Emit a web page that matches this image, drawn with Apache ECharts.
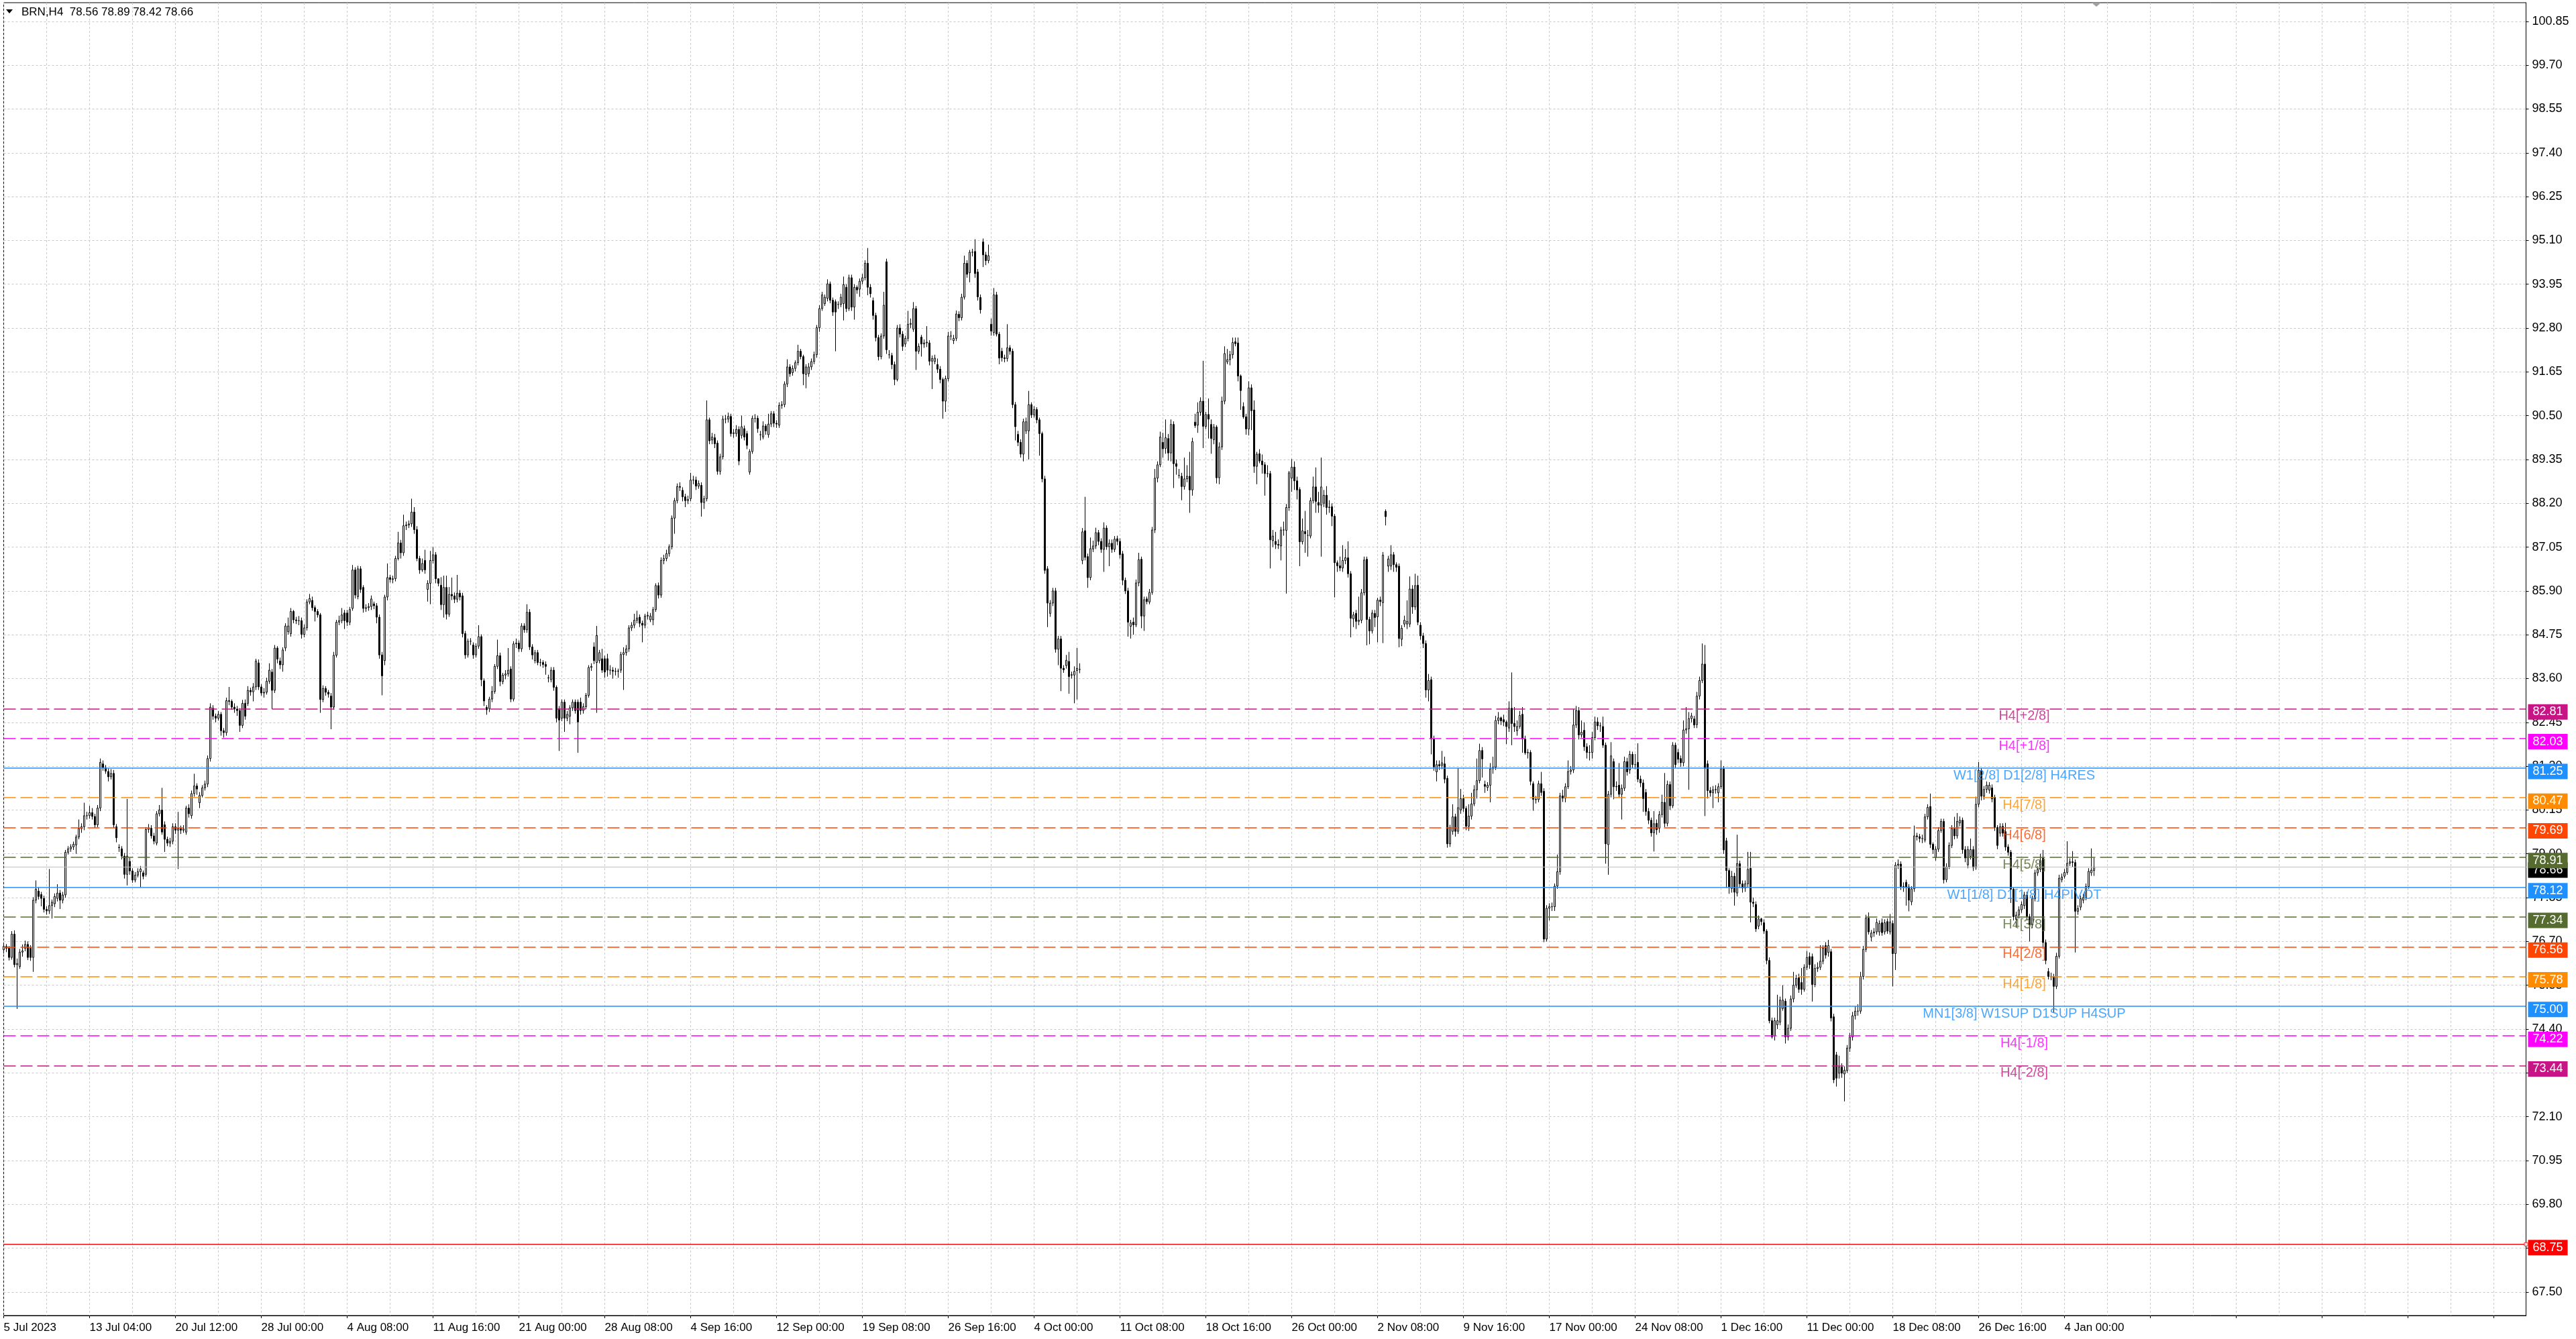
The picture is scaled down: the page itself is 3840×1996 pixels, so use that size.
<!DOCTYPE html>
<html>
<head>
<meta charset="utf-8">
<style>html,body{margin:0;padding:0;background:#fff;}#c{width:3840px;height:1996px;}</style>
<script src="https://cdn.jsdelivr.net/npm/echarts@6/dist/echarts.min.js"></script>
</head>
<body>
<div id="c"></div>
<script>
// ---- data (BRN, H4) : [open, close, low, high] ----
const ohlc = [
[76.48,76.57,76.38,76.66],[76.57,76.52,76.42,76.63],[76.52,76.28,76.20,76.58],[76.28,76.89,76.22,76.97],[76.89,76.09,76.02,76.99],[76.09,76.12,74.93,76.25],[76.04,76.42,75.98,76.50],[76.42,76.45,76.30,76.62],[76.52,76.62,76.44,76.72],[76.62,76.28,76.21,76.70],
[76.52,76.28,76.19,76.60],[76.28,77.78,75.90,77.86],[77.78,78.07,77.70,78.30],[78.02,77.88,77.80,78.12],[77.93,77.83,77.62,78.00],[77.83,77.54,77.46,77.90],[77.54,77.50,77.40,77.62],[77.50,77.64,77.42,78.60],[77.64,77.73,77.30,77.80],[77.69,77.88,77.60,77.96],
[77.83,77.97,77.75,78.20],[77.97,77.78,77.55,78.05],[77.78,77.92,77.70,78.00],[77.92,79.04,77.85,79.10],[79.04,79.13,78.98,79.20],[79.13,79.18,79.05,79.25],[79.18,79.25,79.10,79.32],[79.23,79.44,79.00,79.50],[79.44,79.66,79.38,79.90],[79.66,79.71,79.55,79.80],
[79.71,80.00,79.62,80.34],[80.00,80.00,79.90,80.10],[80.00,80.08,79.92,80.26],[80.08,79.98,79.90,80.20],[79.98,79.76,79.68,80.05],[79.76,80.20,79.70,80.28],[80.20,81.40,80.12,81.50],[81.36,81.26,81.18,81.45],[81.26,81.17,81.10,81.33],[81.16,81.02,80.90,81.24],
[81.02,81.11,80.95,81.22],[81.11,79.76,79.68,81.20],[79.71,79.42,79.30,79.78],[79.17,79.16,79.05,79.25],[79.13,78.94,78.85,79.20],[78.94,78.46,78.35,79.02],[78.46,78.94,78.17,80.44],[78.80,78.55,78.45,78.90],[78.55,78.31,78.24,78.62],[78.31,78.44,78.25,78.52],
[78.44,78.53,78.38,78.62],[78.53,78.60,78.12,78.68],[78.50,78.41,78.33,78.56],[78.46,79.64,78.40,79.70],[79.64,79.67,79.55,79.78],[79.67,79.47,79.40,79.75],[79.47,79.33,79.25,79.55],[79.28,80.05,79.22,80.12],[80.05,80.15,79.98,80.28],[80.15,79.57,79.50,80.73],
[79.76,79.38,79.05,79.85],[79.38,79.28,79.20,79.45],[79.28,79.33,79.18,79.42],[79.33,79.71,79.25,79.80],[79.71,79.62,79.52,79.80],[79.62,79.66,78.60,80.10],[79.66,79.62,79.52,79.74],[79.62,79.65,79.55,79.75],[79.57,80.20,79.50,80.26],[80.20,80.05,79.95,80.30],
[80.00,80.58,79.92,80.66],[80.58,80.78,80.50,81.10],[80.78,80.70,80.55,80.85],[80.34,80.53,80.20,80.62],[80.53,80.73,80.48,80.80],[80.73,80.83,80.66,80.92],[80.83,81.50,80.75,81.58],[81.50,82.85,81.42,82.95],[82.82,82.61,82.52,82.90],[82.61,82.56,82.45,82.68],
[82.56,82.66,82.50,82.75],[82.66,82.23,82.10,82.72],[82.23,82.18,82.05,82.30],[82.18,83.02,82.10,83.10],[83.02,83.00,82.90,83.38],[83.00,82.85,82.78,83.05],[82.85,82.80,82.70,82.95],[82.80,82.76,82.62,82.88],[82.76,82.37,82.20,82.82],[82.37,82.95,82.30,83.04],
[82.95,82.61,82.52,83.05],[82.95,83.29,82.88,83.40],[83.29,83.25,83.15,83.36],[83.25,83.38,83.00,83.48],[83.38,84.06,83.30,84.12],[84.01,83.38,83.30,84.10],[83.38,83.22,83.15,83.45],[83.22,83.24,83.10,83.35],[83.24,83.53,83.18,83.62],[83.53,83.82,83.46,84.00],
[83.77,83.29,82.80,83.85],[83.29,84.40,83.22,84.48],[84.40,84.11,84.00,84.45],[84.06,83.96,83.85,84.15],[83.96,84.35,83.78,84.42],[84.40,84.98,84.32,85.05],[84.83,84.98,84.75,85.20],[84.78,85.36,84.70,85.45],[85.36,85.14,85.05,85.40],[85.14,85.12,85.03,85.22],
[85.12,85.12,85.00,85.24],[85.12,84.76,84.65,85.20],[84.76,84.93,84.68,85.02],[84.93,85.61,84.86,85.68],[85.61,85.70,85.55,85.82],[85.65,85.46,85.38,85.75],[85.46,85.36,85.10,85.52],[85.36,85.27,85.20,85.42],[85.27,83.05,82.70,85.32],[83.05,83.34,82.98,83.42],
[83.34,83.24,83.15,83.40],[83.24,83.19,83.10,83.30],[83.14,82.85,82.27,83.22],[82.85,84.21,82.78,84.30],[84.21,85.08,84.15,85.14],[85.08,85.12,85.00,85.25],[85.12,85.27,85.05,85.45],[85.32,85.12,84.90,85.40],[85.32,85.08,84.98,85.40],[85.08,85.41,85.00,85.48],
[85.44,86.45,85.38,86.58],[86.45,85.79,85.70,86.52],[85.75,86.48,85.68,86.56],[86.48,85.94,85.85,86.55],[85.99,85.44,85.33,86.05],[85.44,85.46,85.35,85.55],[85.46,85.49,85.38,85.58],[85.49,85.69,85.40,85.78],[85.56,85.51,85.42,85.62],[85.51,85.21,85.05,85.58],
[85.21,84.22,84.12,85.28],[84.22,83.67,83.16,84.30],[84.07,85.74,83.95,85.80],[85.74,86.25,85.65,86.62],[86.25,86.20,86.12,86.32],[86.20,86.22,86.10,86.30],[86.22,86.75,86.15,86.82],[86.75,87.16,86.70,87.45],[87.16,86.90,86.75,87.24],[86.90,87.61,86.82,87.90],
[87.61,87.63,87.50,87.72],[87.63,87.66,87.55,87.75],[87.66,87.97,87.58,88.32],[87.97,87.51,87.40,88.10],[87.51,86.75,86.68,87.60],[86.75,86.45,86.35,86.82],[86.45,86.62,86.40,86.75],[86.70,86.45,86.35,86.98],[85.94,86.10,85.62,86.18],[86.10,86.70,85.55,86.95],
[86.70,86.85,86.62,87.05],[86.85,86.22,86.10,86.92],[86.22,86.10,86.02,86.20],[86.05,85.54,85.40,86.26],[85.54,85.99,85.20,86.30],[85.99,85.29,85.15,86.30],[85.29,85.81,85.22,86.00],[85.81,85.77,85.66,86.25],[85.77,85.68,85.58,85.86],[85.68,85.84,85.60,86.32],
[85.84,85.74,85.65,85.92],[85.77,84.78,84.68,85.85],[84.78,84.22,84.12,84.85],[84.22,84.58,84.15,84.65],[84.58,84.58,84.48,84.66],[84.48,84.22,84.12,84.55],[84.22,84.45,84.15,84.52],[84.45,84.70,84.38,85.00],[84.70,83.57,83.40,84.76],[83.54,83.01,82.88,83.60],
[82.84,82.78,82.65,82.90],[82.81,83.06,82.72,83.12],[83.06,83.26,82.98,83.40],[83.26,83.92,83.20,83.98],[83.92,84.20,83.85,84.62],[84.20,83.52,83.40,84.28],[83.52,83.69,83.45,83.75],[83.69,83.72,83.58,83.82],[83.72,83.82,83.65,84.40],[83.85,83.06,82.98,83.92],
[83.06,84.51,83.00,84.58],[84.51,84.53,84.40,84.65],[84.53,84.38,84.30,84.60],[84.38,84.98,84.30,85.05],[84.98,84.88,84.80,85.05],[84.88,85.34,84.80,85.55],[85.34,84.43,84.35,85.42],[84.43,84.22,84.10,84.50],[84.07,84.28,84.00,84.35],[84.28,84.02,83.95,84.35],
[84.02,84.02,83.92,84.12],[84.02,83.97,83.88,84.08],[83.97,83.92,83.70,84.05],[83.62,83.62,83.50,83.70],[83.57,83.82,83.50,83.90],[83.82,83.37,83.28,83.90],[83.37,82.56,82.45,83.42],[82.81,82.51,81.70,82.88],[82.56,82.98,82.48,83.05],[82.98,82.56,82.20,83.05],
[82.56,82.66,82.48,82.75],[82.61,82.83,82.40,82.90],[82.83,82.98,82.75,83.05],[82.98,82.76,82.68,83.05],[82.98,82.46,81.65,83.05],[82.98,82.76,82.65,83.10],[82.76,82.86,82.68,82.95],[82.86,83.16,82.80,83.22],[83.16,83.89,83.10,83.95],[83.89,83.92,83.80,84.00],
[84.43,84.07,83.98,84.55],[84.02,84.73,82.70,84.98],[84.07,84.28,84.00,84.35],[84.12,83.82,83.75,84.38],[84.12,83.77,83.62,84.20],[84.12,83.82,83.65,84.25],[83.82,83.82,83.70,83.95],[83.82,83.79,83.60,83.90],[83.79,83.79,83.68,83.88],[83.79,83.80,83.62,83.86],
[83.82,84.23,83.75,84.30],[84.23,84.28,83.30,84.42],[84.28,84.38,84.20,84.48],[84.38,84.93,84.30,85.00],[84.93,85.00,84.85,85.08],[85.00,85.13,84.92,85.30],[85.13,85.19,85.05,85.38],[85.21,85.05,84.95,85.28],[85.05,85.00,84.55,85.12],[85.00,85.24,84.92,85.30],
[85.24,85.26,85.15,85.35],[85.14,85.24,85.08,85.32],[85.14,85.41,85.00,85.48],[85.41,86.04,85.35,86.10],[86.04,85.79,85.70,86.12],[85.79,86.70,85.72,86.78],[86.70,86.75,86.60,86.85],[86.75,86.88,86.68,86.98],[86.88,87.06,86.80,87.12],[87.06,87.81,86.99,87.88],
[87.81,88.27,87.40,88.34],[88.27,88.64,88.20,88.72],[88.64,88.62,88.52,88.75],[88.54,88.37,88.25,88.62],[88.37,88.27,88.10,88.45],[88.27,88.30,88.18,88.40],[88.32,88.81,88.25,89.00],[88.81,88.81,88.70,88.92],[88.81,88.65,88.55,88.90],[88.65,88.72,88.58,88.80],
[88.67,88.22,87.85,88.75],[88.22,88.32,88.05,88.40],[88.32,90.39,88.25,90.90],[90.39,89.84,89.75,90.45],[89.86,89.94,89.75,90.05],[89.92,89.76,89.65,90.02],[89.78,89.04,88.95,89.85],[89.04,89.42,88.95,89.50],[89.42,90.41,89.35,90.50],[90.41,90.41,90.30,90.52],
[90.41,90.48,90.32,90.58],[90.48,90.03,89.95,90.55],[90.03,90.05,89.92,90.15],[90.03,90.14,89.95,90.25],[90.14,89.31,89.20,90.22],[89.98,90.21,89.90,90.50],[90.16,89.94,89.85,90.24],[90.03,89.72,89.62,90.10],[89.02,89.56,88.95,89.62],[89.56,90.43,89.50,90.50],
[90.43,90.43,90.32,90.54],[90.43,90.16,90.05,90.50],[90.00,90.00,89.85,90.10],[89.94,90.23,89.88,90.35],[90.23,90.10,90.00,90.28],[90.00,90.28,89.92,90.55],[90.28,90.55,90.20,90.62],[90.55,90.30,90.20,90.62],[90.30,90.28,90.18,90.38],[90.25,90.77,90.18,90.85],
[90.77,90.79,90.68,90.88],[90.79,91.33,90.72,91.40],[91.33,91.78,91.25,91.98],[91.78,91.60,91.52,91.85],[91.63,91.74,91.55,91.82],[91.74,91.89,91.66,91.95],[91.89,92.19,91.82,92.36],[92.19,92.05,91.98,92.25],[92.05,91.60,91.30,92.10],[91.58,91.78,91.22,91.85],
[91.60,91.78,91.52,91.88],[91.78,91.92,91.70,92.00],[91.92,92.10,91.85,92.18],[92.10,92.81,92.02,92.88],[92.81,93.31,92.70,93.40],[93.31,93.67,93.25,93.75],[93.44,93.61,93.38,93.68],[93.58,93.96,93.50,94.08],[93.96,93.53,93.45,94.02],[93.53,93.22,93.12,93.60],
[93.49,93.22,92.19,93.55],[93.42,93.42,93.30,93.50],[93.42,93.61,93.35,93.70],[93.44,93.94,93.00,94.15],[93.87,93.31,93.22,93.95],[93.31,94.12,93.25,94.20],[94.12,93.35,93.25,94.20],[93.35,93.87,93.02,93.95],[93.87,93.80,93.70,93.92],[93.82,94.03,93.62,94.10],
[94.03,94.12,93.95,94.22],[94.12,94.50,94.05,94.58],[94.50,93.87,93.66,94.90],[93.87,93.70,93.60,93.95],[93.52,93.13,93.02,93.60],[93.13,92.55,92.45,93.20],[92.55,92.05,91.95,92.62],[92.05,92.59,91.98,92.66],[92.59,93.40,92.52,93.75],[94.54,92.23,92.12,94.62],
[92.10,92.10,92.00,92.22],[92.08,91.84,91.72,92.15],[91.84,91.45,91.30,91.92],[91.45,92.80,91.40,92.88],[92.80,92.64,92.55,92.90],[92.64,92.32,92.20,92.72],[92.38,92.53,92.30,92.60],[92.53,92.90,92.45,93.25],[92.90,92.92,92.80,93.05],[92.77,93.31,92.70,93.48],
[93.31,92.19,91.70,93.38],[92.19,92.32,92.12,92.40],[92.56,92.38,92.05,92.62],[92.38,92.41,92.28,92.50],[92.41,92.43,92.30,92.85],[92.41,91.93,91.82,92.48],[91.93,92.00,91.20,92.08],[91.92,92.01,91.85,92.10],[91.84,91.72,91.62,92.00],[91.72,91.45,91.35,91.80],
[91.45,90.88,90.42,91.50],[90.88,91.47,90.60,91.55],[91.47,92.59,91.40,92.70],[92.59,92.59,92.48,92.72],[92.47,92.53,92.38,92.62],[92.53,93.17,92.46,93.26],[93.16,93.07,92.98,93.24],[93.07,93.61,93.00,93.70],[93.61,94.50,93.55,94.70],[94.50,94.21,94.12,94.58],
[94.25,94.79,94.00,94.85],[94.79,94.79,94.68,94.88],[94.81,94.23,94.12,95.13],[94.27,93.62,93.52,94.35],[93.60,93.28,93.18,93.68],[95.06,94.72,94.40,95.15],[94.72,94.57,94.45,94.80],[94.57,94.70,94.50,94.99],[92.90,92.72,92.60,93.05],[92.68,93.67,92.60,93.85],
[93.67,92.64,92.58,93.75],[92.64,92.01,91.85,92.70],[92.19,92.02,91.92,92.28],[92.02,92.00,91.90,92.10],[92.00,92.28,91.92,92.90],[92.28,92.19,92.10,92.35],[92.19,90.79,90.70,92.26],[90.79,90.21,89.85,90.86],[90.01,89.80,89.70,90.10],[89.80,89.49,89.40,89.88],
[89.49,90.34,89.30,90.42],[90.10,90.34,90.02,90.45],[90.10,90.79,89.35,91.15],[90.79,90.52,90.44,90.85],[90.52,90.66,90.45,90.75],[90.66,90.39,90.30,90.72],[90.39,90.03,89.45,90.45],[90.03,88.84,88.75,90.08],[88.84,86.44,86.35,88.92],[86.48,85.58,84.95,86.55],
[85.31,85.58,85.22,85.66],[85.58,85.90,85.50,85.98],[85.90,84.37,84.28,85.98],[84.37,84.64,83.95,84.72],[84.64,83.87,83.27,84.72],[83.87,83.83,83.75,83.95],[83.94,84.08,83.86,84.22],[84.05,83.65,83.20,84.30],[83.70,83.69,83.60,83.78],[83.69,83.79,82.95,83.92],
[83.81,83.87,83.05,84.40],[83.84,83.84,83.74,84.00],[86.70,87.45,86.60,87.55],[87.48,86.78,86.70,88.37],[86.80,86.25,85.98,86.88],[86.25,87.01,86.18,87.30],[87.00,87.08,86.92,87.22],[87.08,87.43,87.00,87.56],[87.43,87.20,87.10,87.50],[87.20,86.99,86.90,87.28],
[86.99,87.55,86.40,87.70],[87.55,87.06,86.98,87.62],[87.06,87.15,86.55,87.25],[87.15,86.99,86.90,87.25],[86.99,87.26,86.92,87.34],[87.27,87.20,87.10,87.35],[87.20,86.85,86.75,87.28],[86.87,86.18,86.05,86.95],[86.18,85.90,85.82,86.25],[85.90,85.08,84.70,85.98],
[84.97,85.06,84.65,85.14],[85.08,85.01,84.75,85.20],[85.01,86.11,84.95,86.20],[86.11,86.72,86.02,86.90],[86.73,85.24,84.92,86.80],[85.24,85.67,84.85,85.75],[85.69,85.62,85.55,85.75],[85.61,85.86,85.55,85.95],[85.86,87.50,85.80,87.58],[87.50,88.86,87.42,89.10],
[88.86,89.21,88.75,89.30],[89.21,89.94,89.15,90.08],[89.80,89.63,89.40,90.05],[89.64,89.92,89.50,90.40],[89.90,89.52,89.32,90.02],[89.52,90.27,89.30,90.40],[90.27,89.24,88.60,90.35],[89.24,89.17,88.95,89.35],[88.93,88.93,88.85,89.10],[88.91,88.64,88.28,89.00],
[88.64,88.84,88.56,89.40],[88.84,88.91,88.75,89.20],[88.91,88.55,87.95,89.55],[88.55,89.82,88.40,89.92],[90.33,90.24,90.18,90.55],[90.25,90.59,90.05,90.85],[90.59,90.88,90.50,90.98],[90.88,90.22,89.65,91.94],[90.22,90.53,90.15,90.60],[90.53,90.41,89.90,90.95],
[90.27,89.90,89.50,90.40],[89.87,90.20,89.75,90.28],[90.20,88.87,88.72,90.25],[88.87,89.68,88.70,89.80],[89.68,90.88,89.60,91.00],[90.88,92.13,90.80,92.32],[91.91,91.97,91.85,92.25],[91.97,92.10,91.82,92.20],[92.10,92.42,92.00,92.55],[92.44,92.39,92.32,92.55],
[92.41,91.54,91.40,92.55],[91.54,91.16,90.65,91.58],[90.74,90.47,90.42,90.85],[90.47,90.15,90.00,90.55],[90.15,91.23,89.98,91.40],[91.23,90.63,90.12,91.32],[90.65,89.17,89.00,90.90],[89.17,89.49,88.70,89.55],[89.50,89.31,89.25,89.62],[89.31,89.21,88.98,89.48],
[89.21,88.98,88.40,89.28],[88.98,88.98,88.88,89.20],[88.98,87.24,86.49,89.05],[87.22,87.34,87.05,87.50],[87.20,87.12,87.00,87.45],[87.12,87.10,87.00,87.25],[87.08,87.50,86.70,87.58],[87.50,87.50,87.35,87.72],[87.49,88.09,85.83,88.18],[88.09,89.00,88.00,89.05],
[88.86,89.15,88.50,89.36],[89.15,88.79,88.55,89.30],[88.79,88.55,88.30,88.90],[88.56,87.19,86.55,88.62],[87.19,87.48,87.12,87.80],[87.46,87.40,86.90,88.00],[87.36,87.36,86.80,87.50],[87.34,88.27,87.28,88.35],[88.27,88.63,88.20,88.90],[88.63,88.25,87.95,89.14],
[88.22,88.15,87.95,88.50],[88.15,88.63,86.80,89.40],[88.20,88.41,88.10,88.55],[88.41,88.09,87.90,88.65],[88.09,88.10,87.95,88.28],[88.11,87.86,87.60,88.20],[87.86,86.64,85.73,87.92],[86.64,86.56,86.40,86.70],[86.56,86.50,86.42,86.80],[86.50,86.70,86.40,87.10],
[86.70,86.77,86.60,87.00],[86.77,86.35,86.25,87.20],[86.35,85.18,84.68,86.42],[85.17,85.27,84.95,85.35],[85.31,85.10,84.90,85.40],[85.10,85.13,85.00,85.75],[85.13,85.85,85.05,85.95],[85.85,86.71,85.78,86.80],[86.73,85.15,84.47,86.80],[85.15,84.85,84.50,85.22],
[84.85,85.32,84.78,85.40],[85.31,85.20,84.95,85.40],[85.22,85.66,84.55,85.72],[85.66,85.62,85.50,85.75],[85.59,86.84,84.53,86.92],[87.99,87.85,87.62,88.04],[86.55,86.74,86.40,86.82],[86.55,86.85,86.45,87.10],[86.85,86.59,86.40,86.92],[86.59,86.52,86.40,86.65],
[86.55,84.65,84.42,86.62],[84.63,84.92,84.45,85.00],[85.03,85.13,84.95,85.25],[85.03,85.10,84.90,85.65],[85.03,85.95,84.95,86.28],[85.95,85.48,85.30,86.05],[85.48,86.04,85.40,86.35],[86.05,85.08,85.00,86.30],[85.00,84.72,84.62,85.08],[84.72,84.52,84.40,84.80],
[84.52,83.30,83.10,84.60],[83.30,83.55,83.00,83.72],[83.57,82.01,81.61,83.65],[82.01,81.28,81.18,82.10],[81.15,81.34,80.90,81.45],[81.34,81.31,81.20,81.45],[81.32,81.39,81.22,81.70],[81.36,80.96,80.85,81.55],[80.98,79.26,79.16,81.05],[79.26,79.69,79.18,79.76],
[79.59,79.97,79.50,80.30],[79.97,79.59,79.45,80.05],[79.59,80.21,79.52,81.25],[80.15,80.45,80.05,80.70],[80.45,80.19,80.10,80.55],[80.19,79.72,79.62,80.25],[79.72,79.99,79.60,80.30],[79.99,80.31,79.90,80.60],[80.31,80.68,80.25,80.80],[80.68,80.92,80.45,81.50],
[80.92,81.71,80.85,81.89],[81.71,81.49,81.00,81.80],[80.82,80.77,80.60,80.92],[80.74,80.80,80.65,80.88],[80.80,81.23,80.35,81.38],[81.23,81.27,81.10,81.55],[81.27,82.50,81.20,82.62],[82.50,82.57,82.40,82.72],[82.57,82.49,82.38,82.60],[82.52,82.46,82.35,82.65],
[82.46,82.34,81.88,82.50],[82.30,82.82,82.20,83.00],[82.82,82.42,81.85,83.76],[82.42,82.34,82.20,82.85],[82.23,82.34,82.10,82.50],[82.34,82.63,82.28,82.75],[82.66,82.01,81.65,82.85],[82.01,81.65,81.60,82.10],[81.65,81.66,81.50,81.75],[81.66,80.90,80.80,81.72],
[80.84,80.43,80.13,80.90],[80.43,80.42,80.32,80.52],[80.42,80.84,80.35,80.92],[80.84,80.61,80.52,81.15],[80.64,76.76,76.68,80.72],[76.76,77.57,76.70,77.65],[77.57,77.61,77.25,77.70],[77.61,77.61,77.50,77.72],[77.61,78.15,77.50,78.22],[78.15,78.53,78.08,78.98],
[78.53,80.52,78.45,80.60],[80.52,80.46,80.36,80.68],[80.46,80.76,80.35,80.85],[80.76,81.16,80.70,81.45],[81.16,81.20,81.08,81.30],[81.20,82.38,81.12,82.80],[82.38,82.76,82.30,82.88],[82.76,82.12,82.00,82.85],[82.12,82.19,82.05,82.50],[82.24,81.81,81.70,82.45],
[81.81,81.66,81.50,81.90],[81.66,81.66,81.45,81.85],[81.66,82.05,81.50,82.20],[82.05,82.46,81.98,82.60],[82.46,82.36,82.25,82.58],[82.36,82.36,82.20,82.45],[82.34,81.85,81.78,82.60],[81.85,79.26,78.74,81.92],[79.24,80.56,78.45,80.65],[80.56,81.57,80.48,81.93],
[81.42,80.76,80.43,81.50],[80.76,80.77,80.65,80.90],[80.80,80.56,80.48,81.38],[80.56,80.72,79.90,80.82],[80.72,81.42,80.65,81.55],[81.42,81.15,81.05,81.52],[81.20,81.61,81.10,81.70],[81.61,81.34,81.25,81.68],[81.34,81.34,81.22,81.62],[81.40,80.96,80.88,81.90],
[80.96,80.86,80.75,81.05],[80.86,80.45,80.10,80.95],[80.61,80.11,80.00,80.70],[80.11,79.88,79.78,80.20],[79.88,79.55,79.45,79.95],[79.55,79.79,79.06,80.12],[79.80,79.63,79.50,79.90],[79.67,80.03,79.55,80.12],[80.03,80.35,79.95,80.55],[80.35,79.80,79.70,81.12],
[79.80,80.82,79.72,80.92],[80.82,80.26,80.15,80.90],[80.26,81.85,80.20,81.93],[81.85,81.34,81.25,81.92],[81.66,81.48,81.38,81.75],[81.50,81.39,81.28,81.58],[81.39,82.25,81.30,82.50],[82.25,82.28,82.15,82.85],[82.28,82.55,80.68,82.72],[82.55,82.62,82.45,82.70],
[82.54,82.38,82.30,82.62],[82.39,83.14,82.30,83.25],[83.14,83.55,83.05,83.65],[83.55,83.98,83.48,84.52],[83.98,81.24,79.99,84.48],[81.36,80.66,80.45,81.45],[80.66,80.60,80.50,80.75],[80.60,80.68,80.20,80.78],[80.68,80.69,80.58,80.80],[80.60,80.76,80.35,80.85],
[80.76,81.23,80.70,81.45],[81.23,79.10,79.00,81.30],[79.34,78.56,78.10,79.42],[78.56,78.13,77.95,78.62],[78.09,78.41,77.98,78.55],[78.41,77.99,77.64,78.50],[77.97,78.74,77.88,79.50],[78.74,78.21,78.10,78.82],[78.21,78.10,77.98,78.30],[78.10,78.21,78.00,78.30],
[78.21,78.59,78.12,79.05],[78.62,77.73,77.20,79.05],[77.73,77.70,77.60,77.85],[77.67,77.03,76.95,77.75],[77.10,77.29,77.02,77.38],[77.29,77.22,77.12,77.32],[77.19,76.97,76.90,77.28],[76.97,76.20,76.10,77.02],[76.20,74.62,74.55,76.28],[74.62,74.19,74.15,74.70],
[74.22,74.62,74.10,74.70],[74.51,74.62,74.40,75.30],[74.58,75.16,74.50,75.25],[74.94,75.16,74.88,75.55],[75.13,74.19,74.02,75.20],[74.19,74.42,74.10,74.52],[74.42,75.19,74.35,75.28],[75.19,75.55,75.10,75.90],[75.55,75.73,75.48,75.82],[75.75,75.44,75.35,75.85],
[75.62,75.44,75.30,76.00],[75.44,76.02,75.38,76.10],[76.02,76.28,75.95,76.45],[76.30,76.09,75.98,76.41],[76.30,75.57,75.12,76.38],[75.57,75.99,75.50,76.10],[75.99,76.02,75.90,76.15],[76.02,76.18,75.95,76.60],[76.18,76.52,76.10,76.60],[76.59,76.34,76.25,76.68],
[76.41,76.59,76.30,76.74],[76.43,74.69,74.60,76.50],[74.72,73.07,72.98,74.80],[73.72,73.11,72.89,73.80],[73.24,73.40,73.10,73.70],[73.40,73.24,73.12,73.50],[73.22,73.32,72.50,73.42],[73.31,73.90,73.25,73.98],[73.90,74.19,73.80,74.30],[74.19,74.75,74.10,74.85],
[74.75,74.87,74.65,75.00],[74.87,74.87,74.75,75.05],[74.87,75.78,74.80,75.90],[75.78,76.49,75.70,76.58],[76.49,77.31,76.42,77.40],[77.31,76.95,76.88,77.46],[76.81,76.92,76.70,77.00],[76.92,76.95,76.82,77.05],[76.95,77.20,76.88,77.30],[76.95,77.17,76.85,77.25],
[77.19,76.93,76.85,77.30],[76.95,77.19,76.88,77.28],[77.22,76.97,76.90,77.30],[76.95,77.21,76.88,77.42],[77.17,76.38,75.52,77.25],[76.38,78.70,75.95,78.78],[78.70,78.73,78.60,78.85],[78.73,78.14,78.05,78.80],[78.14,78.14,78.00,78.25],[78.25,78.13,77.64,78.32],
[78.13,77.78,77.49,78.20],[77.74,78.08,77.65,78.15],[78.08,79.47,78.00,79.74],[79.47,79.45,79.35,79.55],[79.45,79.40,79.30,79.52],[79.40,79.40,79.28,79.50],[79.36,79.97,79.30,80.05],[79.97,80.22,79.90,80.30],[80.24,79.25,79.15,80.58],[79.25,79.11,79.00,79.30],
[78.90,79.12,78.82,79.20],[79.12,79.61,79.05,79.70],[79.61,79.85,79.55,79.92],[79.85,78.32,78.22,79.92],[78.32,78.66,78.25,78.75],[78.66,79.22,78.60,79.30],[79.22,79.66,79.15,79.75],[79.66,79.47,79.38,79.97],[79.47,79.85,79.40,80.07],[79.81,79.88,79.72,79.98],
[79.88,79.11,79.00,79.95],[79.11,78.89,78.78,79.20],[78.71,79.11,78.62,79.20],[78.93,79.11,78.85,79.40],[79.11,78.64,78.55,79.20],[78.64,80.30,78.58,80.50],[80.30,81.19,80.22,81.41],[81.19,80.51,80.40,81.25],[80.51,80.69,80.42,80.78],[80.69,80.80,80.60,80.90],
[80.67,80.80,80.58,80.88],[80.73,80.44,80.35,80.82],[80.48,79.69,79.60,80.55],[79.69,79.22,79.12,79.75],[79.54,79.71,79.45,79.80],[79.72,79.54,79.45,79.80],[79.58,79.18,79.08,79.81],[79.18,79.04,78.95,79.25],[79.04,78.07,77.71,79.10],[78.07,77.35,77.25,78.12],
[77.28,77.39,77.06,77.48],[77.39,77.53,77.30,77.62],[77.53,77.67,77.45,77.75],[77.64,77.92,77.55,78.00],[77.92,77.35,77.25,78.00],[77.35,77.13,76.70,77.42],[77.13,77.82,77.05,77.90],[77.82,78.50,77.75,78.58],[78.50,78.59,78.42,78.68],[78.59,78.82,78.52,79.00],
[78.89,76.67,76.55,79.10],[76.67,76.20,76.10,76.75],[75.91,75.78,75.70,76.00],[75.78,75.78,75.68,75.88],[75.78,75.52,74.83,75.85],[75.52,76.31,75.45,76.40],[76.31,78.36,76.25,78.45],[78.32,78.39,78.25,78.48],[78.41,78.51,78.35,78.60],[78.51,78.75,78.45,79.33],
[78.75,78.79,78.68,78.88],[78.79,78.77,78.65,79.07],[78.77,77.49,76.41,78.85],[77.49,77.56,77.40,77.65],[77.60,77.82,77.52,77.90],[77.78,77.85,77.70,77.95],[77.85,78.14,77.78,78.22],[78.14,78.54,78.08,78.62],[78.50,78.57,78.42,79.14],[78.56,78.66,78.42,78.89]
];

const xLabels = ['5 Jul 2023','13 Jul 04:00','20 Jul 12:00','28 Jul 00:00','4 Aug 08:00','11 Aug 16:00','21 Aug 00:00','28 Aug 08:00','4 Sep 16:00','12 Sep 00:00','19 Sep 08:00','26 Sep 16:00','4 Oct 00:00','11 Oct 08:00','18 Oct 16:00','26 Oct 00:00','2 Nov 08:00','9 Nov 16:00','17 Nov 00:00','24 Nov 08:00','1 Dec 16:00','11 Dec 00:00','18 Dec 08:00','26 Dec 16:00','4 Jan 00:00'];
const yTicks = [67.50,68.65,69.80,70.95,72.10,73.25,74.40,75.55,76.70,77.85,79.00,80.15,81.30,82.45,83.60,84.75,85.90,87.05,88.20,89.35,90.50,91.65,92.80,93.95,95.10,96.25,97.40,98.55,99.70,100.85];

const levelValues = [82.81,82.03,81.25,80.47,79.69,78.91,78.12,77.34,76.56,75.78,75.00,74.22,73.44];
const levelNames = ['H4[+2/8]','H4[+1/8]','W1[2/8] D1[2/8] H4RES','H4[7/8]','H4[6/8]','H4[5/8]','W1[1/8] D1[1/8] H4PIVOT','H4[3/8]','H4[2/8]','H4[1/8]','MN1[3/8] W1SUP D1SUP H4SUP','H4[-1/8]','H4[-2/8]'];
const levelColors = ['#C71585','#FF00FF','#1E90FF','#FF8C00','#FF4500','#556B2F','#1E90FF','#556B2F','#FF4500','#FF8C00','#1E90FF','#FF00FF','#C71585'];
const levelSolid = [false,false,true,false,false,false,true,false,false,false,true,false,false];
const currentPrice = 78.66;
const redLevel = 68.75;
const headerText = 'BRN,H4  78.56 78.89 78.42 78.66';

// ---- layout constants ----
const BAR_SLOTS = 941;      // chart width in bars (incl. right shift)
const LABEL_EVERY = 32;
const GRID_EVERY = 16;
const LEVEL_LABEL_BAR = 753;
const FONT = '"Liberation Sans", Arial, sans-serif';

const cats = [];
for (let i = 0; i < BAR_SLOTS; i++) {
  const k = i / LABEL_EVERY;
  cats.push(i % LABEL_EVERY === 0 && k < xLabels.length ? xLabels[k] : '');
}

const boxLabel = (color) => ({
  show: true, position: 'end', distance: 3, offset: [0, 5],
  formatter: (p) => Number(p.value).toFixed(2),
  backgroundColor: color, color: '#fff', fontFamily: FONT, fontSize: 18,
  lineHeight: 19, padding: [2, 7, 2, 7]
});

const markData = [];
markData.push({ yAxis: currentPrice, lineStyle: { color: '#C0C0C0', type: 'solid', width: 1.2 }, label: boxLabel('#000') });
levelValues.forEach((v, i) => {
  markData.push({
    yAxis: v,
    lineStyle: { color: levelColors[i], type: levelSolid[i] ? 'solid' : [18, 7], width: 1.5 },
    label: boxLabel(levelColors[i])
  });
});
markData.push({ yAxis: redLevel, lineStyle: { color: '#FF0000', type: 'solid', width: 1.5 }, label: boxLabel('#FF0000') });

const chart = echarts.init(document.getElementById('c'), null, { renderer: 'canvas' });
chart.setOption({
  animation: false,
  backgroundColor: '#fff',
  grid: {
    left: 5.5, right: 74.5, top: 4, bottom: 35,
    show: true, borderColor: '#000', borderWidth: 1, outerBoundsMode: 'none'
  },
  graphic: [
    { type: 'polygon', shape: { points: [[9, 14], [19, 14], [14, 20]] }, style: { fill: '#000' }, z: 100 },
    { type: 'polygon', shape: { points: [[3118, 4], [3132, 4], [3125, 10]] }, style: { fill: '#A0A0A0' }, z: 100 },
    { type: 'text', left: 32, top: 10, style: { text: headerText, fill: '#000', font: '17px ' + FONT }, z: 100 }
  ],
  xAxis: {
    type: 'category', data: cats, boundaryGap: false,
    axisLine: { show: true, lineStyle: { color: '#000', width: 1 } },
    axisTick: { show: true, interval: LABEL_EVERY - 1, length: 4, lineStyle: { color: '#000' } },
    axisLabel: { show: true, interval: LABEL_EVERY - 1, align: 'left', margin: 10, color: '#000', fontFamily: FONT, fontSize: 17 },
    splitLine: { show: true, interval: GRID_EVERY - 1, lineStyle: { color: '#C8C8C8', type: [3, 3], width: 1 } }
  },
  yAxis: {
    type: 'value', position: 'right', min: 66.88, max: 101.34, scale: true,
    axisLine: { show: true, onZero: false, lineStyle: { color: '#000', width: 1 } },
    axisTick: { show: true, customValues: yTicks, length: 4, lineStyle: { color: '#000' } },
    axisLabel: { show: true, customValues: yTicks, margin: 9, color: '#000', fontFamily: FONT, fontSize: 18, formatter: (v) => Number(v).toFixed(2) },
    splitLine: { show: true, lineStyle: { color: '#C8C8C8', type: [3, 3], width: 1 } }
  },
  series: [
    {
      type: 'candlestick', data: ohlc, large: false, progressive: 0, barWidth: 3,
      itemStyle: { color: '#fff', color0: '#000', borderColor: '#000', borderColor0: '#000', borderWidth: 1 },
      markLine: { silent: true, symbol: 'none', animation: false, data: markData },
      z: 3
    },
    {
      type: 'scatter', silent: true, symbolSize: 1, itemStyle: { color: 'rgba(0,0,0,0)' },
      data: levelValues.map((v, i) => ({
        value: [LEVEL_LABEL_BAR, v],
        label: { show: true, position: 'bottom', distance: 1, formatter: levelNames[i], color: levelColors[i], fontFamily: FONT, fontSize: 20 }
      })),
      z: 5
    },
    {
      type: 'scatter', silent: true, symbol: 'rect', symbolSize: 5,
      itemStyle: { color: '#fff', borderColor: '#FF0000', borderWidth: 1 },
      data: [[BAR_SLOTS - 1, redLevel]], z: 6
    }
  ]
});
</script>
</body>
</html>
